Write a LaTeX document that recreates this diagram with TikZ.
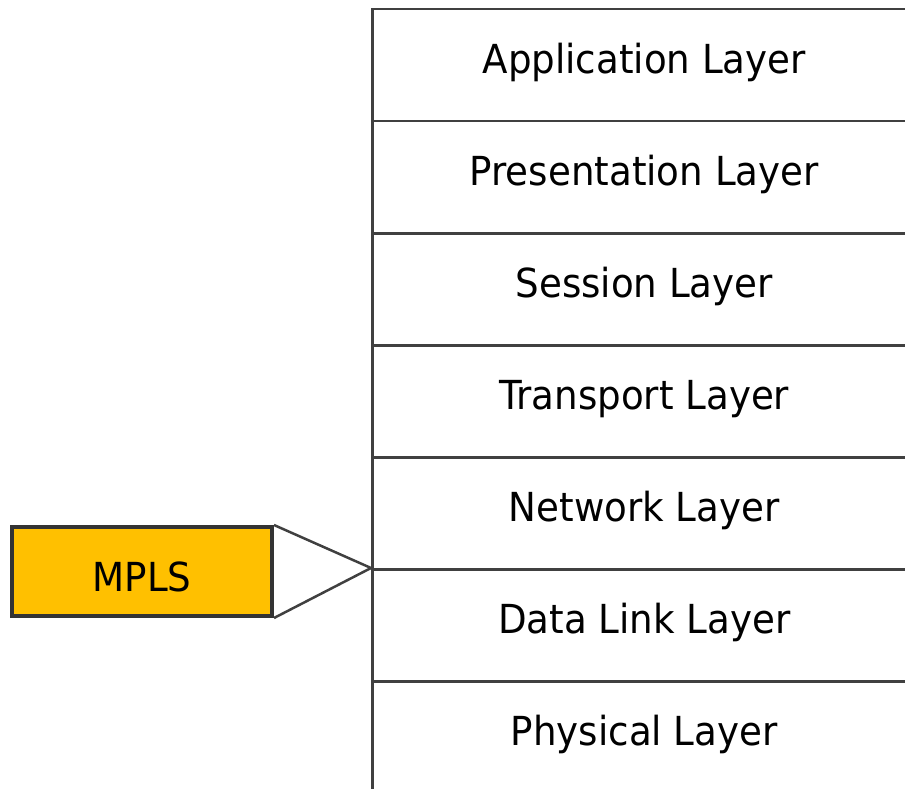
\documentclass[tikz,border=0pt]{standalone}
\usepackage{fontspec}
\setmainfont{DejaVu Sans}[FakeStretch=0.93]
\begin{document}
\begin{tikzpicture}[x=1pt,y=-1pt,
  layerbox/.style={draw=linegray,line width=2.5pt,minimum width=544pt,minimum height=112pt,inner sep=0pt,anchor=north west,text height=30pt,text depth=14pt,font=\fontsize{40}{48}\selectfont},
  mplsbox/.style={draw=borderdark,fill=mplsorange,line width=4pt,minimum width=260pt,minimum height=89pt,inner sep=0pt,text height=40pt,text depth=0pt,font=\fontsize{40}{48}\selectfont},
  conn/.style={draw=linegray,line width=2.5pt}]
\definecolor{linegray}{HTML}{404040}
\definecolor{borderdark}{HTML}{333333}
\definecolor{mplsorange}{HTML}{FFC000}
\useasboundingbox (0,0) rectangle (905,789);
\node[layerbox] (l7) at (371,8) {Application Layer};
\node[layerbox] (l6) at (371,120) {Presentation Layer};
\node[layerbox] (l5) at (371,232) {Session Layer};
\node[layerbox] (l4) at (371,344) {Transport Layer};
\node[layerbox] (l3) at (371,456) {Network Layer};
\node[layerbox] (l2) at (371,568) {Data Link Layer};
\node[layerbox] (l1) at (371,680) {Physical Layer};
\node[mplsbox] (mpls) at (142,571.5) {MPLS};
\draw[conn] (mpls.north east) -- (l2.north west) -- (mpls.south east);
\end{tikzpicture}
\end{document}
